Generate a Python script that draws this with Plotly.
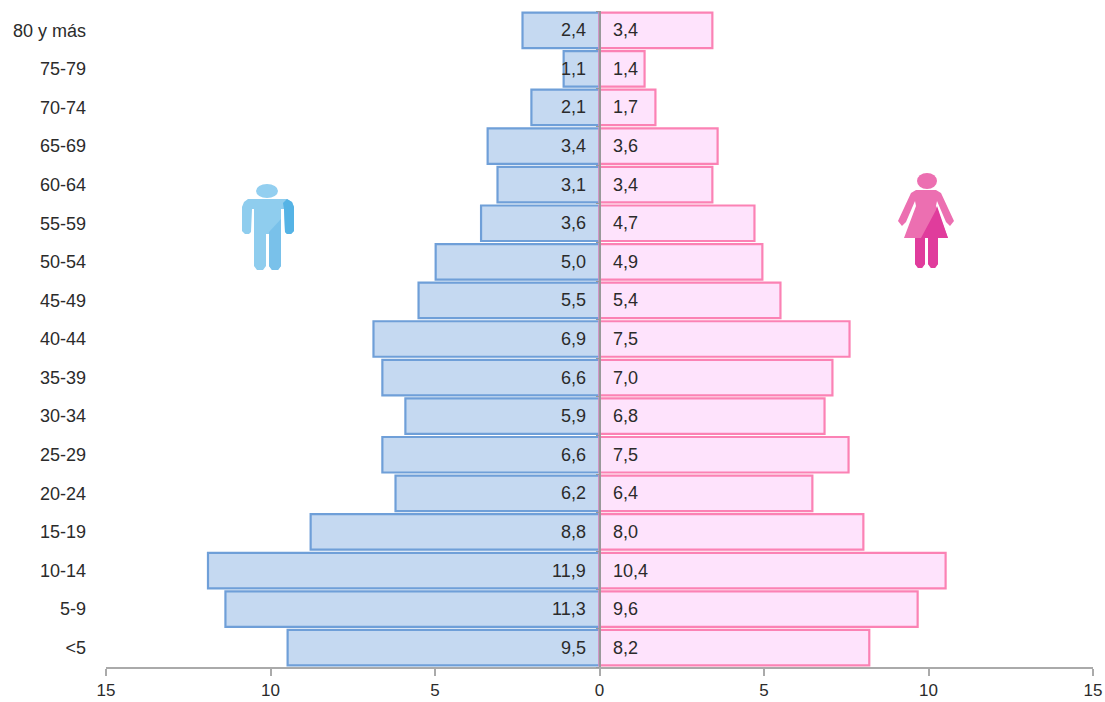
import plotly.graph_objects as go

W, H = 1105, 702
L, R, T, B = 106, 1093, 11, 667

categories = ["<5", "5-9", "10-14", "15-19", "20-24", "25-29", "30-34", "35-39", "40-44",
              "45-49", "50-54", "55-59", "60-64", "65-69", "70-74", "75-79", "80 y más"]
men_bars = [9.48, 11.37, 11.9, 8.78, 6.2, 6.6, 5.9, 6.6, 6.87, 5.5, 4.98, 3.6, 3.1, 3.4, 2.07, 1.09, 2.34]
women_bars = [8.2, 9.67, 10.52, 8.02, 6.47, 7.57, 6.84, 7.08, 7.6, 5.5, 4.95, 4.71, 3.43, 3.59, 1.7, 1.37, 3.43]
men_labels = ["9,5", "11,3", "11,9", "8,8", "6,2", "6,6", "5,9", "6,6", "6,9", "5,5", "5,0", "3,6", "3,1", "3,4", "2,1", "1,1", "2,4"]
women_labels = ["8,2", "9,6", "10,4", "8,0", "6,4", "7,5", "6,8", "7,0", "7,5", "5,4", "4,9", "4,7", "3,4", "3,6", "1,7", "1,4", "3,4"]
x_ticks = [-15, -10, -5, 0, 5, 10, 15]
x_tick_labels = ["15", "10", "5", "0", "5", "10", "15"]

FONT = "Liberation Sans, Arial, sans-serif"
TXT = "#2b2b2b"


def px(x):
    return (x - L) / (R - L)


def py(y):
    return 1 - (y - T) / (B - T)


def path(points):
    return "M " + " L ".join(f"{px(x):.5f},{py(y):.5f}" for x, y in points) + " Z"


def deco(points, color):
    return dict(type="path", xref="paper", yref="paper", path=path(points),
                fillcolor=color, line=dict(width=0), layer="above")


def ellipse(x0, y0, x1, y1, color):
    return dict(type="circle", xref="paper", yref="paper", x0=px(x0), x1=px(x1), y0=py(y1), y1=py(y0),
                fillcolor=color, line=dict(width=0), layer="above")


man_light, man_dark = "#8fcdee", "#55b3e5"
woman_light, woman_dark = "#ec6fb1", "#e03c9c"

man_body = [(248, 199), (287, 199), (292, 202), (294, 207), (294, 231), (291, 234), (287, 234), (285, 232), (284, 209),
            (281, 209), (281, 266), (278, 270), (272, 270), (269, 266), (269, 234), (266, 234), (266, 266),
            (263, 270), (257, 270), (254, 266), (254, 209), (252, 209), (251, 232), (249, 234), (245, 234),
            (242, 231), (242, 207), (244, 202)]
man_shade = [(287, 199), (292, 202), (294, 207), (294, 231), (291, 234), (287, 234), (285, 232), (284, 209), (283, 203)]
man_shade2 = [(281, 219), (281, 266), (278, 270), (272, 270), (269, 266), (269, 232)]

woman_body = [(916, 190), (936, 190), (941, 193), (954, 221), (950, 226), (946, 222), (937, 201), (936, 206), (948, 238),
              (938, 238), (938, 264), (935, 268), (931, 268), (928, 264), (928, 238), (925, 238), (925, 264),
              (922, 268), (918, 268), (915, 264), (915, 238), (904, 238), (916, 206), (915, 201), (906, 222),
              (902, 226), (898, 221), (911, 193)]
woman_shade = [(936, 210), (937, 206), (948, 238), (938, 238), (938, 264), (935, 268), (931, 268), (928, 264), (928, 238),
               (925, 238), (925, 264), (922, 268), (918, 268), (915, 264), (915, 238), (921, 238)]

shapes = [
    ellipse(256, 184, 278, 198, "#93cff0"),
    deco(man_body, man_light), deco(man_shade, man_dark), deco(man_shade2, "#79c1ea"),
    ellipse(917, 173, 937, 189, woman_light),
    deco(woman_body, woman_light), deco(woman_shade, woman_dark),
]

fig = go.Figure()
fig.add_bar(y=categories, x=[-v for v in men_bars], orientation="h", width=0.92,
            marker=dict(color="#c5d9f1", line=dict(color="#6f9fd8", width=2.2)), hoverinfo="skip")
fig.add_bar(y=categories, x=women_bars, orientation="h", width=0.92,
            marker=dict(color="#fee3fc", line=dict(color="#fb82b4", width=2.2)), hoverinfo="skip")
# empty companion trace so that the centre axis (with its boundary ticks) is drawn
fig.add_scatter(y=categories, x=[0] * len(categories), mode="none", yaxis="y2", hoverinfo="skip")

annotations = []
for cat, m, w in zip(categories, men_labels, women_labels):
    annotations.append(dict(x=-0.4, y=cat, xref="x", yref="y", text=m, showarrow=False, xanchor="right",
                            yanchor="middle", xshift=2, font=dict(size=18, color=TXT, family=FONT)))
    annotations.append(dict(x=0.4, y=cat, xref="x", yref="y", text=w, showarrow=False, xanchor="left",
                            yanchor="middle", xshift=-2, font=dict(size=18, color=TXT, family=FONT)))

fig.update_layout(
    width=W, height=H, autosize=False,
    margin=dict(l=L, r=W - R, t=T, b=H - B, pad=0, autoexpand=False),
    paper_bgcolor="white", plot_bgcolor="white",
    barmode="overlay", showlegend=False,
    font=dict(family=FONT, size=18, color=TXT),
    shapes=shapes, annotations=annotations,
    xaxis=dict(range=[-15, 15], tickvals=x_ticks, ticktext=x_tick_labels, showgrid=False, zeroline=False,
               automargin=False, showline=True, linecolor="#aaaaaa", linewidth=1.5, ticks="outside", ticklen=7,
               tickcolor="#aaaaaa", tickwidth=1.5, ticklabelstandoff=0, tickfont=dict(size=17, color=TXT)),
    yaxis=dict(type="category", categoryorder="array", categoryarray=categories, range=[-0.5, 16.5],
               automargin=False, showgrid=False, zeroline=False, showline=False, ticks="", ticklabelstandoff=19,
               tickfont=dict(size=18, color=TXT)),
    yaxis2=dict(type="category", categoryorder="array", categoryarray=categories, range=[-0.5, 16.5],
                automargin=False, overlaying="y", anchor="free", position=0.5, side="left", showgrid=False, zeroline=False,
                showline=True, linecolor="#999999", linewidth=1.5, ticks="outside", tickson="boundaries",
                ticklen=3, tickcolor="#999999", showticklabels=False),
)

fig.write_html("out.html", config={"displayModeBar": False},
               post_script="document.body.style.margin='0';")
